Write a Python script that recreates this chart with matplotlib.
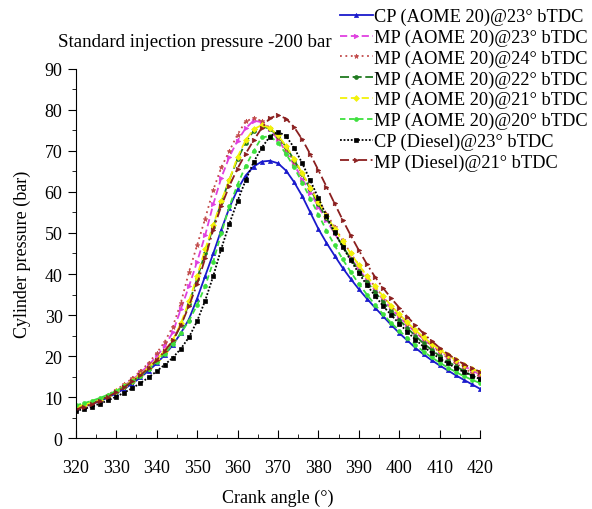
import matplotlib
matplotlib.use("Agg")
import matplotlib.pyplot as plt
from matplotlib.ticker import MultipleLocator

plt.rcParams["font.family"] = ["Liberation Serif", "DejaVu Serif"]

# crank angle, 2 degree steps from 320 to 420
crank = list(range(320, 421, 2))

cp_aome_23 = [7.2, 7.7, 8.3, 9.0, 9.9, 10.9, 12.0, 13.3, 14.8, 16.4, 18.2, 20.3, 22.7, 25.6, 29.0,
              34.0, 39.5, 45.0, 50.8, 56.2, 60.6, 64.0, 66.2, 67.4, 67.6, 67.0, 65.2, 62.4, 59.0,
              55.0, 51.0, 47.6, 44.5, 41.5, 38.8, 36.3, 34.0, 31.8, 29.7, 27.6, 25.6, 23.8, 22.0,
              20.4, 19.0, 17.7, 16.5, 15.3, 14.2, 13.1, 12.0]
mp_aome_23 = [7.3, 7.9, 8.5, 9.3, 10.3, 11.5, 12.8, 14.2, 15.9, 17.8, 19.9, 22.5, 25.8, 31.5, 37.0,
              43.0, 49.4, 57.0, 63.5, 68.6, 72.5, 75.5, 77.4, 77.0, 75.3, 72.8, 69.8, 66.6, 63.2,
              59.8, 56.4, 53.1, 49.9, 46.8, 43.9, 41.2, 38.6, 36.1, 33.8, 31.6, 29.5, 27.6, 25.8,
              24.1, 22.6, 21.2, 19.9, 18.7, 17.6, 16.5, 15.5]
mp_aome_24 = [7.3, 7.9, 8.6, 9.5, 10.6, 11.8, 13.1, 14.6, 16.3, 18.3, 20.7, 23.5, 27.2, 33.0, 40.5,
              47.0, 53.5, 60.5, 66.0, 70.0, 74.0, 77.2, 78.0, 77.3, 75.6, 73.2, 70.4, 67.4, 64.4,
              61.2, 58.0, 54.7, 51.5, 48.2, 45.0, 42.2, 39.5, 36.9, 34.5, 32.2, 30.0, 28.0, 26.0,
              24.2, 22.5, 21.0, 19.5, 18.2, 17.0, 15.9, 15.0]
mp_aome_22 = [7.5, 8.0, 8.6, 9.3, 10.2, 11.2, 12.4, 13.7, 15.2, 16.9, 18.8, 21.0, 23.6, 27.6, 32.8,
              38.8, 45.2, 51.5, 57.5, 63.0, 68.0, 72.0, 74.9, 76.0, 75.4, 73.6, 71.0, 67.8, 64.3,
              60.7, 57.1, 53.6, 50.1, 46.8, 43.7, 40.8, 38.1, 35.6, 33.2, 30.9, 28.8, 26.8, 24.9,
              23.1, 21.5, 20.0, 18.7, 17.5, 16.4, 15.2, 14.2]
mp_aome_21 = [7.6, 8.1, 8.7, 9.4, 10.3, 11.4, 12.6, 14.0, 15.5, 17.2, 19.1, 21.3, 23.9, 28.0, 33.3,
              39.5, 46.0, 52.0, 57.8, 63.0, 68.5, 72.6, 75.3, 76.3, 75.6, 73.8, 71.2, 68.0, 64.6,
              61.0, 57.6, 54.2, 51.0, 48.0, 45.0, 42.2, 39.5, 37.0, 34.6, 32.3, 30.2, 28.2, 26.3,
              24.6, 23.0, 21.5, 20.2, 19.0, 17.9, 16.9, 16.0]
mp_aome_20 = [8.0, 8.5, 9.1, 9.8, 10.6, 11.5, 12.6, 13.8, 15.2, 16.8, 18.6, 20.6, 22.9, 25.6, 28.6,
              32.4, 37.0, 43.0, 50.0, 56.5, 61.8, 66.3, 70.0, 73.3, 73.6, 72.0, 69.3, 66.0, 62.3,
              58.4, 54.5, 50.6, 47.0, 43.6, 40.5, 37.6, 35.0, 32.5, 30.2, 28.1, 26.2, 24.4, 22.7,
              21.1, 19.7, 18.4, 17.2, 16.1, 15.1, 14.2, 13.4]
cp_diesel_23 = [6.6, 7.1, 7.7, 8.4, 9.2, 10.1, 11.1, 12.2, 13.4, 14.8, 16.3, 17.9, 19.6, 21.8, 24.6,
                28.5, 33.5, 39.5, 46.2, 52.3, 57.8, 62.8, 67.3, 70.8, 73.5, 74.7, 73.6, 70.8, 67.0,
                62.8, 58.5, 54.2, 50.2, 46.6, 43.3, 40.2, 37.3, 34.7, 32.2, 30.0, 27.9, 25.9, 24.0,
                22.3, 20.8, 19.4, 18.2, 17.1, 16.1, 15.2, 14.4]
mp_diesel_21 = [7.0, 7.6, 8.3, 9.1, 10.1, 11.2, 12.4, 13.8, 15.3, 17.1, 19.0, 21.2, 23.8, 27.5, 32.2,
                37.5, 43.8, 50.8, 56.6, 61.5, 65.7, 69.3, 72.6, 75.6, 78.0, 78.7, 77.9, 75.8, 72.8,
                69.2, 65.3, 61.3, 57.2, 53.2, 49.4, 45.8, 42.4, 39.3, 36.6, 34.1, 31.8, 29.6, 27.5,
                25.5, 23.7, 22.0, 20.5, 19.2, 18.0, 17.0, 16.2]

labels = [
    "CP (AOME 20)@23° bTDC",
    "MP (AOME 20)@23° bTDC",
    "MP (AOME 20)@24° bTDC",
    "MP (AOME 20)@22° bTDC",
    "MP (AOME 20)@21° bTDC",
    "MP (AOME 20)@20° bTDC",
    "CP (Diesel)@23° bTDC",
    "MP (Diesel)@21° bTDC",
]

series = [cp_aome_23, mp_aome_23, mp_aome_24, mp_aome_22, mp_aome_21, mp_aome_20,
          cp_diesel_23, mp_diesel_21]

# (color, linestyle, marker, markersize)
styles = [
    ("#1a1acc", "-", "^", 3.0),
    ("#e040e0", (0, (4, 2)), ">", 3.2),
    ("#c24a4a", (0, (1, 2)), "*", 3.5),
    ("#1f7a1f", (0, (5, 2)), "o", 2.8),
    ("#f2f20a", (0, (4, 2)), "D", 3.0),
    ("#3de03d", (0, (3, 2)), "o", 2.8),
    ("#000000", (0, (1, 1)), "s", 2.8),
    ("#8b1f1f", (0, (5, 2, 1, 2)), ">", 3.2),
]

fig = plt.figure(figsize=(5.92, 5.10), dpi=100)
ax = fig.add_axes([0.128, 0.139, 0.683, 0.724])

for vals, lab, (col, ls, mk, ms) in zip(series, labels, styles):
    ax.plot(crank, vals, color=col, linestyle=ls, linewidth=1.3, marker=mk,
            markersize=ms, markeredgewidth=0.5, label=lab)

ax.set_xlim(320, 420)
ax.set_ylim(0, 90)
ax.xaxis.set_major_locator(MultipleLocator(10))
ax.xaxis.set_minor_locator(MultipleLocator(5))
ax.yaxis.set_major_locator(MultipleLocator(10))
ax.yaxis.set_minor_locator(MultipleLocator(5))
ax.spines["top"].set_visible(False)
ax.spines["right"].set_visible(False)
ax.tick_params(axis="x", which="major", direction="in", length=6, labelsize=13, pad=15)
ax.tick_params(axis="x", which="minor", direction="in", length=3)
ax.tick_params(axis="y", which="major", direction="out", length=6, labelsize=13)
ax.tick_params(axis="y", which="minor", direction="out", length=3)

ax.set_xlabel("Crank angle (°)", fontsize=13, labelpad=9)
ax.set_ylabel("Cylinder pressure (bar)", fontsize=13, labelpad=10)

fig.text(0.098, 0.916, "Standard injection pressure -200 bar", fontsize=13.6, va="center")

fig.legend(loc="upper right", bbox_to_anchor=(1.012, 1.004), frameon=False, fontsize=13.2,
           handlelength=1.8, handletextpad=0.1, labelspacing=0.19, borderaxespad=0.2)

fig.savefig("out.png", dpi=100)
